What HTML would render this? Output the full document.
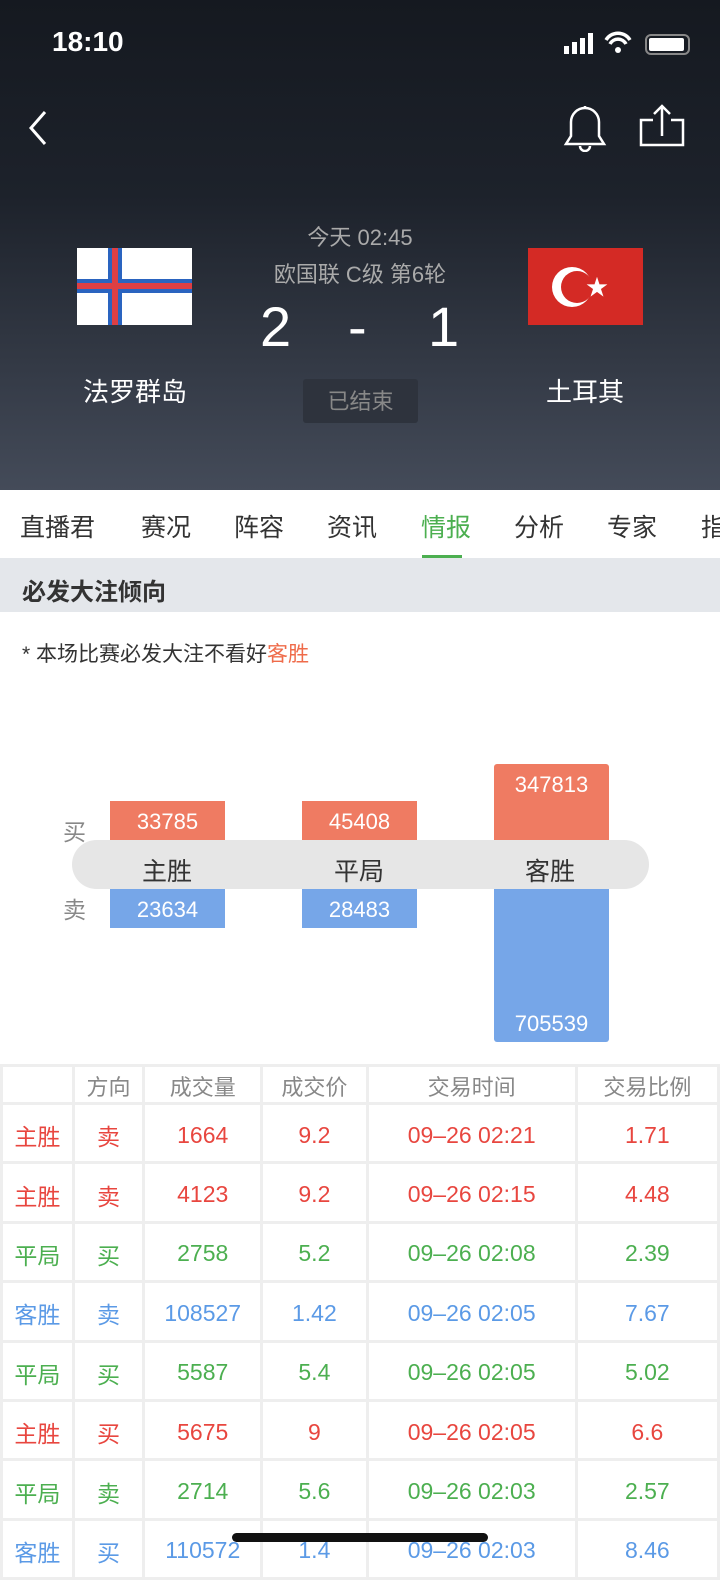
<!DOCTYPE html>
<html><head><meta charset="utf-8"><style>
*{margin:0;padding:0;box-sizing:border-box}
body{width:720px;height:1559px;overflow:hidden;background:#fff;font-family:"Liberation Sans","Noto Sans CJK SC",sans-serif;position:relative}
.a{position:absolute}
.hdr{left:0;top:0;width:720px;height:490px;background:linear-gradient(#151920,#1d222b 40%,#444b59)}
.c{text-align:center}
table{position:absolute;left:0;top:1064px;border-collapse:collapse;width:720px}
td{border:3px solid #eeeeee;height:59.4px;text-align:center;font-size:23px;padding-top:4px}
tr.h td{height:38px;color:#888;font-size:22px;padding-top:2px}
.r td{color:#e8463f}.g td{color:#4caf50}.b td{color:#5b9ae6}
</style></head><body>
<div class="a hdr"></div>
<div class="a" style="left:52px;top:26px;color:#fff;font-size:28px;font-weight:bold">18:10</div>
<svg class="a" style="left:560px;top:30px" width="135" height="30">
<rect x="4" y="16" width="5" height="8" fill="#fff"/><rect x="12" y="12" width="5" height="12" fill="#fff"/><rect x="20" y="8" width="5" height="16" fill="#fff"/><rect x="28" y="3" width="5" height="21" fill="#fff"/>
<path d="M46 10 a14 14 0 0 1 24 0 M50 14 a9 9 0 0 1 16 0" stroke="#fff" stroke-width="3.5" fill="none"/><circle cx="58" cy="20" r="3" fill="#fff"/>
<rect x="86" y="5" width="43" height="19" rx="5" fill="none" stroke="#888" stroke-width="2"/><rect x="89" y="8" width="35" height="13" rx="2" fill="#fff"/>
</svg>
<svg class="a" style="left:25px;top:108px" width="30" height="40"><path d="M20 4 L6 20 L20 36" stroke="#fff" stroke-width="3" fill="none"/></svg>
<svg class="a" style="left:558px;top:102px" width="130" height="50">
<path d="M8 42 h38 l-5 -8 v-14 a14 14 0 0 0 -28 0 v14 z M27 6 v-2" stroke="#fff" stroke-width="2.5" fill="none"/><path d="M22 44 a5 5 0 0 0 10 0" stroke="#fff" stroke-width="2.5" fill="none"/>
<path d="M95 18 h-12 v25 h42 v-25 h-12 M104 34 v-30 M96 12 l8 -8 l8 8" stroke="#fff" stroke-width="2.5" fill="none"/>
</svg>
<div class="a c" style="left:260px;top:220px;width:200px;color:#aaa;font-size:22px">今天 02:45</div>
<div class="a c" style="left:240px;top:257px;width:240px;color:#aaa;font-size:22px">欧国联 C级 第6轮</div>
<div class="a" style="left:260px;top:294px;color:#fff;font-size:56px">2</div>
<div class="a" style="left:348px;top:294px;color:#fff;font-size:56px">-</div>
<div class="a" style="left:428px;top:294px;color:#fff;font-size:56px">1</div>
<div class="a c" style="left:303px;top:379px;width:115px;height:44px;background:#2e333d;border-radius:3px;color:#888;font-size:22px;line-height:46px">已结束</div>
<svg class="a" style="left:77px;top:248px" width="115" height="77"><rect width="115" height="77" fill="#fff"/><rect x="31" width="14" height="77" fill="#2a64c0"/><rect y="31" width="115" height="14" fill="#2a64c0"/><rect x="35" width="6" height="77" fill="#de3f44"/><rect y="35" width="115" height="6" fill="#de3f44"/></svg>
<svg class="a" style="left:528px;top:248px" width="115" height="77"><rect width="115" height="77" fill="#d42a25"/><circle cx="44" cy="39" r="20" fill="#fff"/><circle cx="49" cy="39" r="16" fill="#d42a25"/><text x="58" y="47" fill="#fff" font-size="22">★</text></svg>
<div class="a c" style="left:60px;top:372px;width:150px;color:#fff;font-size:26px">法罗群岛</div>
<div class="a c" style="left:510px;top:372px;width:150px;color:#fff;font-size:26px">土耳其</div>
<div class="a" style="left:0;top:490px;width:720px;height:68px;background:#fff"></div>
<div class="a" style="left:20px;top:508px;font-size:25px;color:#333;white-space:nowrap">
<span style="position:absolute;left:0">直播君</span><span style="position:absolute;left:121px">赛况</span><span style="position:absolute;left:214px">阵容</span><span style="position:absolute;left:307px">资讯</span><span style="position:absolute;left:401px;color:#4caf50">情报</span><span style="position:absolute;left:494px">分析</span><span style="position:absolute;left:587px">专家</span><span style="position:absolute;left:681px">指</span></div>
<div class="a" style="left:422px;top:555px;width:40px;height:4px;background:#4caf50"></div>
<div class="a" style="left:0;top:558px;width:720px;height:54px;background:#e4e7eb"></div>
<div class="a" style="left:22px;top:572px;font-size:24px;font-weight:bold;color:#333">必发大注倾向</div>
<div class="a" style="left:22px;top:638px;font-size:21px;color:#333">* 本场比赛必发大注不看好<span style="color:#ef6b4a">客胜</span></div>
<div class="a" style="left:63px;top:813px;font-size:23px;color:#888">买</div>
<div class="a" style="left:63px;top:891px;font-size:23px;color:#888">卖</div>
<div class="a c" style="left:110px;top:801px;width:115px;height:39px;background:#ef7b62;color:#fff;font-size:22px;line-height:41px">33785</div>
<div class="a c" style="left:302px;top:801px;width:115px;height:39px;background:#ef7b62;color:#fff;font-size:22px;line-height:41px">45408</div>
<div class="a c" style="left:494px;top:764px;width:115px;height:76px;background:#ef7b62;color:#fff;font-size:22px;line-height:41px;border-radius:3px 3px 0 0">347813</div>
<div class="a" style="left:110px;top:889px;width:115px;height:39px;background:#76a6e8;color:#fff;font-size:22px;line-height:42px;text-align:center">23634</div>
<div class="a" style="left:302px;top:889px;width:115px;height:39px;background:#76a6e8;color:#fff;font-size:22px;line-height:42px;text-align:center">28483</div>
<div class="a" style="left:494px;top:889px;width:115px;height:153px;background:#76a6e8;color:#fff;font-size:22px;text-align:center;border-radius:0 0 3px 3px"><div style="position:absolute;bottom:5px;width:100%">705539</div></div>
<div class="a" style="left:72px;top:840px;width:577px;height:49px;background:#e6e6e6;border-radius:25px;font-size:25px;color:#333">
<span style="position:absolute;left:70px;top:12px">主胜</span><span style="position:absolute;left:262px;top:12px">平局</span><span style="position:absolute;left:453px;top:12px">客胜</span></div>
<table>
<colgroup><col style="width:72px"><col style="width:71px"><col style="width:118px"><col style="width:106px"><col style="width:210px"><col style="width:143px"></colgroup>
<tr class="h"><td></td><td>方向</td><td>成交量</td><td>成交价</td><td>交易时间</td><td>交易比例</td></tr>
<tr class="r"><td>主胜</td><td>卖</td><td>1664</td><td>9.2</td><td>09–26 02:21</td><td>1.71</td></tr>
<tr class="r"><td>主胜</td><td>卖</td><td>4123</td><td>9.2</td><td>09–26 02:15</td><td>4.48</td></tr>
<tr class="g"><td>平局</td><td>买</td><td>2758</td><td>5.2</td><td>09–26 02:08</td><td>2.39</td></tr>
<tr class="b"><td>客胜</td><td>卖</td><td>108527</td><td>1.42</td><td>09–26 02:05</td><td>7.67</td></tr>
<tr class="g"><td>平局</td><td>买</td><td>5587</td><td>5.4</td><td>09–26 02:05</td><td>5.02</td></tr>
<tr class="r"><td>主胜</td><td>买</td><td>5675</td><td>9</td><td>09–26 02:05</td><td>6.6</td></tr>
<tr class="g"><td>平局</td><td>卖</td><td>2714</td><td>5.6</td><td>09–26 02:03</td><td>2.57</td></tr>
<tr class="b"><td>客胜</td><td>买</td><td>110572</td><td>1.4</td><td>09–26 02:03</td><td>8.46</td></tr>
</table>
<div class="a" style="left:232px;top:1533px;width:256px;height:9px;border-radius:5px;background:#111"></div>
</body></html>
